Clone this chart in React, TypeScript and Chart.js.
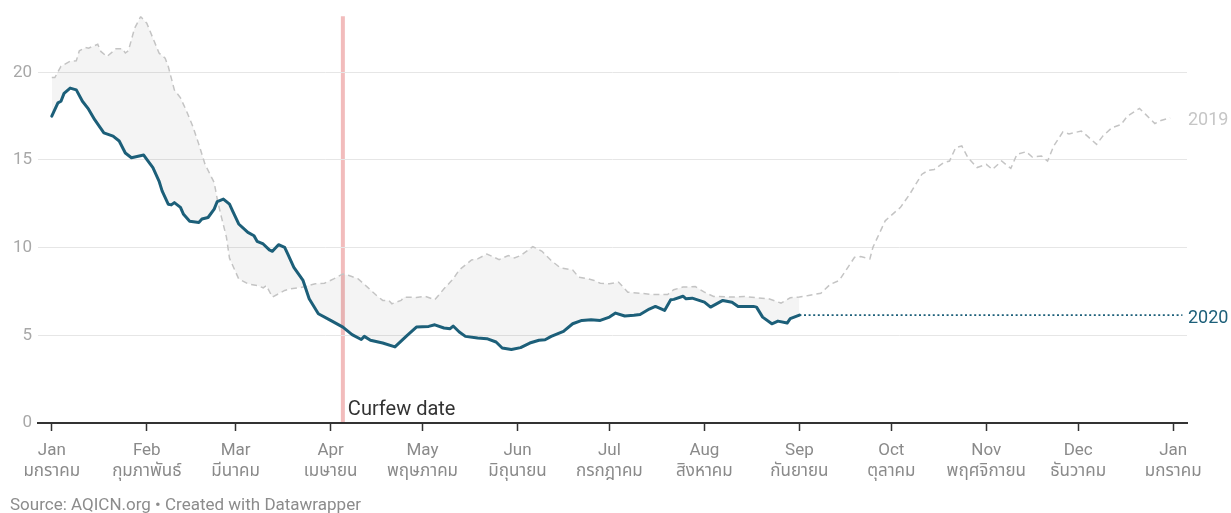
import React, { useEffect, useRef } from "react";
import { Chart, registerables } from "chart.js";

Chart.register(...registerables);

// Day-of-year (Jan 1 = 0) at each month start, 2020 (leap year)
const MONTH_DAYS = [0, 31, 60, 91, 121, 152, 182, 213, 244, 274, 305, 335, 366];
const MONTHS_EN = ["Jan", "Feb", "Mar", "Apr", "May", "Jun", "Jul", "Aug", "Sep", "Oct", "Nov", "Dec", "Jan"];
const MONTHS_TH = [
  "มกราคม", "กุมภาพันธ์", "มีนาคม", "เมษายน", "พฤษภาคม", "มิถุนายน",
  "กรกฎาคม", "สิงหาคม", "กันยายน", "ตุลาคม", "พฤศจิกายน", "ธันวาคม", "มกราคม",
];
const Y_TICKS = [0, 5, 10, 15, 20];

const DAYS_2019 = [
  0, 1, 3, 4, 6, 8, 9, 11, 12, 15, 16, 18, 20, 21, 23, 24, 25, 27, 29, 31, 33, 35, 37, 38, 40,
  42, 44, 46, 48, 50, 53, 54, 55, 57, 58, 61, 64, 67, 69, 70, 72, 76, 78, 82, 86, 89, 92, 95,
  97, 100, 103, 106, 108, 110, 111, 114, 115, 119, 122, 125, 128, 131, 133, 137, 139, 142, 146,
  149, 151, 153, 157, 160, 163, 166, 170, 172, 175, 177, 179, 182, 185, 188, 192, 196, 201, 203,
  206, 210, 213, 216, 222, 226, 230, 234, 238, 241, 244, 247, 251, 254, 257, 262, 264, 267, 268,
  272, 275, 277, 280, 284, 286, 288, 291, 293, 295, 297, 299, 302, 305, 307, 310, 313, 315, 318,
  320, 323, 325, 327, 330, 332, 336, 338, 341, 343, 346, 349, 351, 355, 357, 360, 362, 365,
];
const PM_2019 = [
  19.7, 19.7, 20.34, 20.44, 20.63, 20.66, 21.23, 21.42, 21.38, 21.6, 21.19, 20.9, 21.19, 21.35,
  21.35, 21.1, 21.23, 22.5, 23.18, 22.8, 21.95, 21.1, 20.8, 20.34, 19.0, 18.54, 17.78, 16.93,
  15.89, 14.76, 13.71, 12.77, 12.0, 10.6, 9.4, 8.22, 7.94, 7.84, 7.71, 7.84, 7.18, 7.56, 7.65,
  7.75, 7.94, 7.97, 8.22, 8.5, 8.41, 8.22, 7.75, 7.27, 6.99, 6.99, 6.8, 6.99, 7.18, 7.16, 7.22,
  7.03, 7.65, 8.22, 8.73, 9.3, 9.36, 9.64, 9.32, 9.55, 9.41, 9.55, 10.06, 9.79, 9.26, 8.85, 8.73,
  8.31, 8.22, 8.13, 7.97, 7.94, 8.03, 7.46, 7.4, 7.33, 7.33, 7.6, 7.75, 7.78, 7.46, 7.22, 7.18,
  7.22, 7.14, 7.08, 6.84, 7.14, 7.18, 7.27, 7.4, 7.9, 8.13, 9.45, 9.49, 9.36, 10.02, 11.53, 12.0,
  12.3, 13.05, 14.19, 14.4, 14.46, 14.84, 14.94, 15.7, 15.8, 15.13, 14.57, 14.75, 14.46, 14.94,
  14.52, 15.32, 15.47, 15.17, 15.23, 14.94, 15.8, 16.6, 16.49, 16.65, 16.36, 15.89, 16.36, 16.84,
  17.02, 17.5, 17.94, 17.6, 17.08, 17.25, 17.4,
];

const DAYS_2020 = [
  0, 2, 3, 4, 6, 8, 10, 12, 14, 17, 20, 22, 24, 26, 30, 31, 33, 35, 36, 38, 39, 40, 42, 43, 45,
  48, 49, 51, 53, 54, 56, 58, 59, 61, 64, 66, 67, 69, 71, 72, 74, 76, 77, 79, 82, 84, 87, 91, 95,
  98, 101, 102, 104, 108, 112, 116, 119, 123, 125, 128, 130, 131, 133, 135, 139, 142, 145, 147,
  150, 153, 156, 159, 161, 163, 167, 170, 173, 176, 179, 182, 184, 187, 190, 192, 195, 197, 200,
  202, 203, 206, 207, 209, 213, 215, 219, 222, 224, 229, 230, 232, 235, 237, 240, 241, 244,
];
const PM_2020 = [
  17.5, 18.26, 18.35, 18.8, 19.1, 19.0, 18.35, 17.9, 17.3, 16.55, 16.36, 16.08, 15.4, 15.13, 15.28,
  15.04, 14.56, 13.8, 13.24, 12.48, 12.44, 12.57, 12.3, 11.9, 11.5, 11.44, 11.63, 11.72, 12.2,
  12.63, 12.77, 12.48, 12.1, 11.35, 10.87, 10.68, 10.36, 10.21, 9.87, 9.79, 10.17, 10.02, 9.64,
  8.88, 8.13, 7.09, 6.23, 5.85, 5.47, 5.04, 4.76, 4.94, 4.72, 4.56, 4.34, 5.0, 5.47, 5.51, 5.6,
  5.42, 5.38, 5.53, 5.19, 4.94, 4.85, 4.81, 4.62, 4.28, 4.19, 4.3, 4.56, 4.72, 4.75, 4.94, 5.23,
  5.66, 5.85, 5.89, 5.85, 6.04, 6.27, 6.1, 6.14, 6.19, 6.5, 6.65, 6.42, 7.03, 7.05, 7.23, 7.08,
  7.12, 6.89, 6.61, 6.99, 6.89, 6.65, 6.65, 6.61, 6.04, 5.66, 5.81, 5.7, 5.95, 6.15,
];

const CURFEW_DAY = 95;
const PROJECTION_END_DAY = 369;

const FONT = "Roboto, 'Noto Sans Thai', 'Noto Sans', 'DejaVu Sans', sans-serif";
const TEAL = "#1c5f79";
const GREY_LINE = "#c4c4c4";

const annotations = {
  id: "annotations",
  beforeDraw(chart: any) {
    const { ctx, chartArea, scales } = chart;
    const px = scales.x.getPixelForValue(CURFEW_DAY);
    ctx.save();
    ctx.strokeStyle = "#f2bcbc";
    ctx.lineWidth = 4;
    ctx.beginPath();
    ctx.moveTo(px, chartArea.top);
    ctx.lineTo(px, chartArea.bottom);
    ctx.stroke();
    ctx.restore();
  },
  afterDatasetsDraw(chart: any) {
    const { ctx, chartArea, scales } = chart;
    const px = scales.x.getPixelForValue(CURFEW_DAY);
    ctx.save();
    ctx.font = `20px ${FONT}`;
    ctx.fillStyle = "#333333";
    ctx.textAlign = "left";
    ctx.textBaseline = "alphabetic";
    ctx.fillText("Curfew date", px + 5, scales.y.getPixelForValue(0) - 8);

    ctx.font = `18px ${FONT}`;
    ctx.textBaseline = "middle";
    ctx.fillStyle = "#c6c6c6";
    ctx.fillText("2019", chartArea.right + 1, scales.y.getPixelForValue(PM_2019[PM_2019.length - 1]) + 3);
    ctx.fillStyle = TEAL;
    ctx.fillText("2020", chartArea.right + 1, scales.y.getPixelForValue(PM_2020[PM_2020.length - 1]) + 3);
    ctx.restore();
  },
};

export default function App() {
  const ref = useRef<HTMLCanvasElement | null>(null);

  useEffect(() => {
    if (!ref.current) return;
    const d2019 = DAYS_2019.map((d, i) => ({ x: d, y: PM_2019[i] }));
    const d2020 = DAYS_2020.map((d, i) => ({ x: d, y: PM_2020[i] }));
    const last2020 = PM_2020[PM_2020.length - 1];
    const dProj = [
      { x: DAYS_2020[DAYS_2020.length - 1], y: last2020 },
      { x: PROJECTION_END_DAY, y: last2020 },
    ];

    const chart = new Chart(ref.current, {
      type: "line",
      data: {
        datasets: [
          {
            label: "2019",
            data: d2019,
            borderColor: GREY_LINE,
            borderWidth: 1.5,
            borderDash: [6, 4],
            pointRadius: 0,
            fill: false,
            order: 2,
          },
          {
            label: "2020",
            data: d2020,
            borderColor: TEAL,
            borderWidth: 3,
            borderJoinStyle: "round",
            borderCapStyle: "round",
            pointRadius: 0,
            fill: { target: 0 },
            backgroundColor: "rgba(0,0,0,0.045)",
            order: 0,
          },
          {
            label: "2020 flat",
            data: dProj,
            borderColor: TEAL,
            borderWidth: 1.6,
            borderDash: [2, 2.6],
            pointRadius: 0,
            fill: false,
            order: 1,
          },
        ],
      },
      options: {
        animation: false,
        responsive: false,
        maintainAspectRatio: false,
        layout: { padding: { top: 15, right: 44, left: 0, bottom: 0 } },
        plugins: {
          legend: { display: false },
          tooltip: { enabled: false },
          filler: { drawTime: "beforeDatasetsDraw" },
        },
        scales: {
          x: {
            type: "linear",
            min: -4.5,
            max: 370.5,
            afterBuildTicks: (scale: any) => {
              scale.ticks = MONTH_DAYS.map((v) => ({ value: v }));
            },
            afterFit: (scale: any) => {
              scale.height = 90;
            },
            ticks: {
              autoSkip: false,
              maxRotation: 0,
              padding: 9,
              color: "#8a8a8a",
              font: { family: FONT, size: 17, lineHeight: 1.25 },
              callback: (value: any) => {
                const i = MONTH_DAYS.indexOf(Number(value));
                return i >= 0 ? [MONTHS_EN[i], MONTHS_TH[i]] : "";
              },
            },
            grid: {
              drawOnChartArea: false,
              drawTicks: true,
              tickLength: 8,
              tickWidth: 1.5,
              tickColor: "#333333",
            },
            border: { display: true, color: "#333333", width: 2 },
          },
          y: {
            type: "linear",
            min: 0,
            max: 23.2,
            afterBuildTicks: (scale: any) => {
              scale.ticks = Y_TICKS.map((v) => ({ value: v }));
            },
            afterFit: (scale: any) => {
              scale.width = 38;
            },
            ticks: {
              padding: 6,
              color: "#a8a8a8",
              font: { family: FONT, size: 17 },
            },
            grid: {
              drawTicks: false,
              color: (c: any) => (c.tick && c.tick.value === 0 ? "rgba(0,0,0,0)" : "#e6e6e6"),
              lineWidth: 1,
            },
            border: { display: false },
          },
        },
      },
      plugins: [annotations],
    });
    return () => chart.destroy();
  }, []);

  return (
    <div style={{ position: "fixed", left: 0, top: 0, width: 1231, height: 513, background: "#ffffff" }}>
      <canvas ref={ref} width={1231} height={513} style={{ display: "block", width: 1231, height: 513 }} />
      <div
        style={{
          position: "absolute",
          left: 10,
          top: 494,
          fontFamily: FONT,
          fontSize: 17,
          lineHeight: "20px",
          color: "#8c8c8c",
          whiteSpace: "nowrap",
        }}
      >
        Source: AQICN.org • Created with Datawrapper
      </div>
    </div>
  );
}
